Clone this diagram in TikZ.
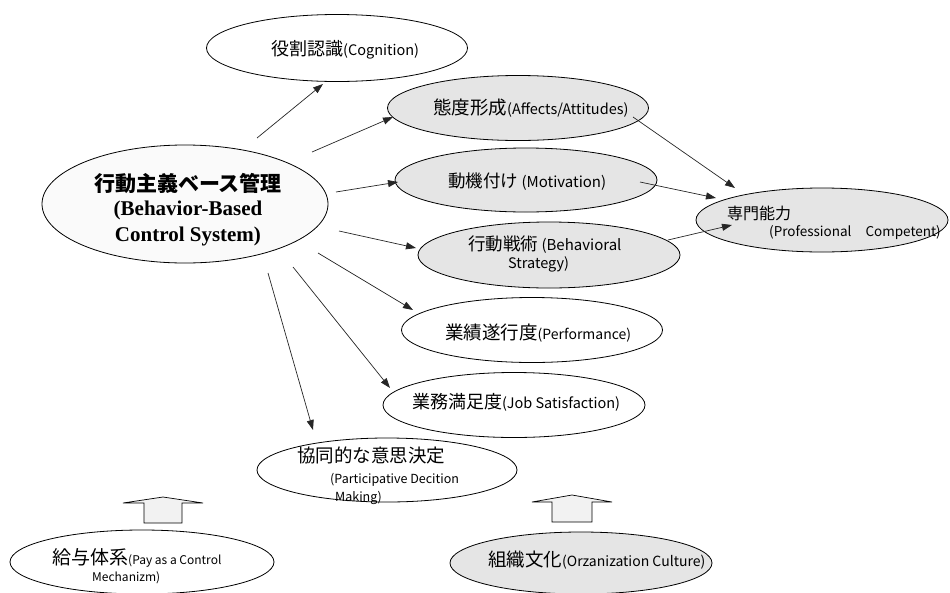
\documentclass[tikz,border=0pt]{standalone}
\usepackage{fontspec}
\setmainfont{Noto Sans CJK JP}
\newfontfamily\serifbf{Liberation Serif}
\usetikzlibrary{shapes.geometric,arrows.meta}
\newcommand\fsz[2]{{\fontsize{#1}{#1}\selectfont #2}}
\begin{document}
\begin{tikzpicture}[x=1pt,y=-1pt,
  ell/.style={ellipse,draw=black,line width=0.8pt,inner sep=0pt,outer sep=0pt},
  gfill/.style={fill=gray!20},
  arr/.style={draw=black!85,line width=0.7pt,-{Triangle[length=10pt,width=7pt]}},
  txt/.style={inner sep=0pt,anchor=west},
  bigarrow/.style={draw=black,line width=0.7pt,fill=gray!10},
]
\useasboundingbox (0,0) rectangle (950,592);

% ellipses
\node[ell,fill=gray!4,minimum width=286,minimum height=118] (main) at (185,204) {};
\node[ell,minimum width=261,minimum height=67] (cog) at (337,48) {};
\node[ell,gfill,minimum width=261,minimum height=65] (aff) at (518,108) {};
\node[ell,gfill,minimum width=262,minimum height=64] (mot) at (526,180) {};
\node[ell,gfill,minimum width=262,minimum height=66] (beh) at (549,255) {};
\node[ell,minimum width=261,minimum height=65] (perf) at (532,330) {};
\node[ell,minimum width=262,minimum height=65] (job) at (514,405) {};
\node[ell,minimum width=260,minimum height=64] (part) at (387,470) {};
\node[ell,gfill,minimum width=252,minimum height=64] (prof) at (822,220) {};
\node[ell,minimum width=264,minimum height=64] (pay) at (142,562) {};
\node[ell,gfill,minimum width=262,minimum height=62] (org) at (581,563) {};

% texts
\node[inner sep=0pt] (tm1) at (188,184) {\fsz{21}{\bfseries 行動主義ベース管理}};
\node[inner sep=0pt] (tm2) at (188,210) {\serifbf\bfseries\fsz{21}{(Behavior-Based}};
\node[inner sep=0pt] (tm3) at (188,236) {\serifbf\bfseries\fsz{21}{Control System)}};

\node[txt] (tcog) at (271,50) {\fsz{18}{役割認識}\fsz{14.5}{(Cognition)}};
\node[txt] (taff) at (433,108) {\fsz{18.5}{態度形成}\fsz{14.5}{(Affects/Attitudes)}};
\node[txt] (tmot) at (448,182) {\fsz{17.5}{動機付け}\fsz{15}{\ (Motivation)}};
\node[txt] (tbeh1) at (468,245) {\fsz{17.5}{行動戦術}\fsz{15}{\ (Behavioral}};
\node[txt] (tbeh2) at (508,264) {\fsz{14.5}{Strategy)}};
\node[txt] (tperf) at (445,333) {\fsz{18.5}{業績遂行度}\fsz{14}{(Performance)}};
\node[txt] (tjob) at (412,402) {\fsz{18}{業務満足度}\fsz{14.5}{(Job Satisfaction)}};
\node[txt] (tpart1) at (297,455) {\fsz{18.5}{協同的な意思決定}};
\node[txt] (tpart2) at (330,480) {\fsz{12.5}{(Participative Decition}};
\node[txt] (tpart3) at (335,498) {\fsz{12.5}{Making)}};
\node[txt] (tprof1) at (727,213) {\fsz{16}{専門能力}};
\node[txt] (tprof2) at (769,233) {\fsz{13.5}{(Professional\hspace{14pt}Competent)}};
\node[txt] (tpay1) at (52,558) {\fsz{19}{給与体系}\fsz{12}{(Pay as a Control}};
\node[txt] (tpay2) at (92,578) {\fsz{12}{Mechanizm)}};
\node[txt] (torg) at (488,560) {\fsz{18.5}{組織文化}\fsz{14}{(Orzanization Culture)}};

% connector end points
\coordinate (s1) at (257,138); \coordinate (e1) at (323,84);
\coordinate (s2) at (312,152); \coordinate (e2) at (393,117);
\coordinate (s3) at (336,192); \coordinate (e3) at (398,182);
\coordinate (s4) at (339,231); \coordinate (e4) at (416,248);
\coordinate (s5) at (318,253); \coordinate (e5) at (413,310);
\coordinate (s6) at (293,267); \coordinate (e6) at (390,388);
\coordinate (s7) at (268,273); \coordinate (e7) at (313,430);
\coordinate (s8) at (633,117); \coordinate (e8) at (735,188);
\coordinate (s9) at (640,182); \coordinate (e9) at (716,198);
\coordinate (s10) at (668,240); \coordinate (e10) at (732,225);

\draw[arr] (s1) -- (e1);
\draw[arr] (s2) -- (e2);
\draw[arr] (s3) -- (e3);
\draw[arr] (s4) -- (e4);
\draw[arr] (s5) -- (e5);
\draw[arr] (s6) -- (e6);
\draw[arr] (s7) -- (e7);
\draw[arr] (s8) -- (e8);
\draw[arr] (s9) -- (e9);
\draw[arr] (s10) -- (e10);

% hollow block arrows
\draw[bigarrow] (144,523) -- (144,503) -- (123,503) -- (163,497) -- (203,503) -- (182,503) -- (182,523) -- cycle;
\draw[bigarrow] (552,522) -- (552,502) -- (532,502) -- (572,495) -- (612,502) -- (592,502) -- (592,522) -- cycle;
\end{tikzpicture}
\end{document}
